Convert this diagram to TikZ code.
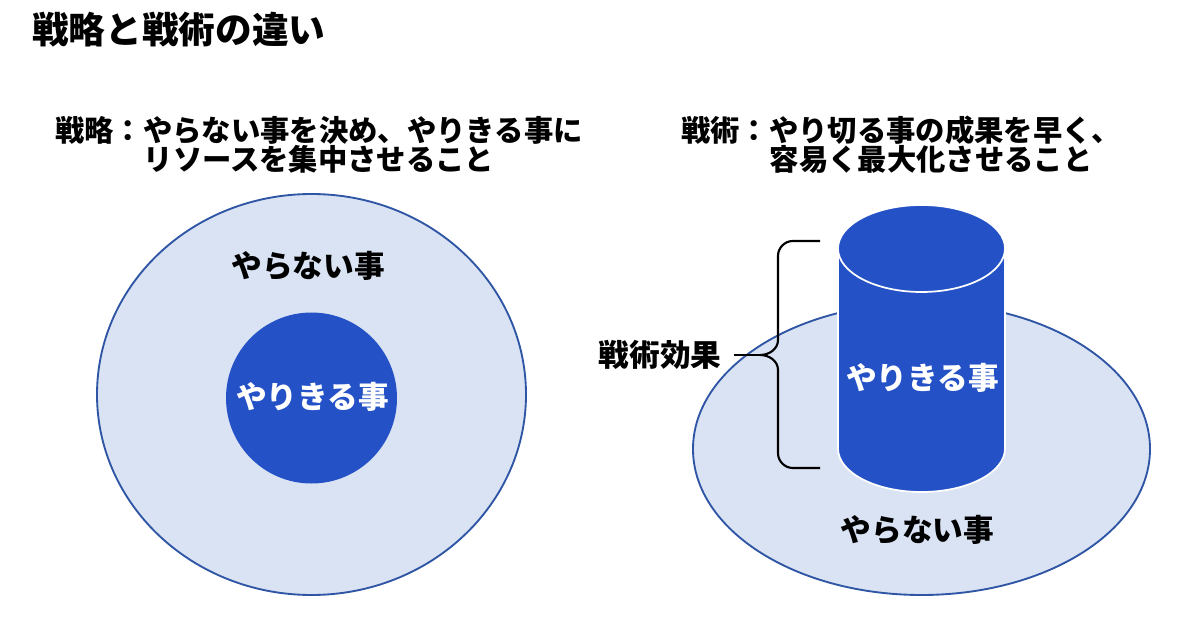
\documentclass[tikz,border=0pt]{standalone}
\usepackage{fontspec}
\setmainfont{Noto Sans CJK JP}
\usetikzlibrary{calc}
\definecolor{lightfill}{HTML}{DAE3F3}
\definecolor{rimblue}{HTML}{2F55A5}
\definecolor{darkfill}{HTML}{2452C6}
\tikzset{
  txt/.style={inner sep=0pt, font=\fontsize{22}{29}\selectfont\bfseries, text=black},
  lbl/.style={inner sep=0pt, font=\fontsize{23}{29}\selectfont\bfseries},
  outer/.style={fill=lightfill, draw=rimblue, line width=1.4pt},
  inner/.style={fill=darkfill},
  cyl/.style={fill=darkfill, draw=white, line width=1.3pt},
  bracepath/.style={draw=black, line width=1.6pt, line join=round}
}
\begin{document}
\begin{tikzpicture}[x=0.75pt,y=-0.75pt]
\useasboundingbox[fill=white] (0,0) rectangle (1200,624);

% title
\node[inner sep=0pt, anchor=west, font=\fontsize{27.5}{33}\selectfont\bfseries] (title) at (32,29.5) {戦略と戦術の違い};

% left headings
\node[txt, anchor=west] (l1) at (55,130) {戦略：やらない事を決め、やりきる事に};
\node[txt, anchor=west] (l2) at (143.5,159.5) {リソースを集中させること};

% right headings
\node[txt, anchor=west] (r1) at (681,130) {戦術：やり切る事の成果を早く、};
\node[txt, anchor=west] (r2) at (769.5,159.5) {容易く最大化させること};

% left diagram
\draw[outer] (311.5,394.5) ellipse [x radius=214.5, y radius=200.5];
\fill[inner] (311.5,398) circle [radius=85.5];
\node[lbl] (lnot) at (308,266) {やらない事};
\node[lbl, text=white] (ldo) at (312.5,397) {やりきる事};

% right diagram
\draw[outer] (921.5,449) ellipse [x radius=228.5, y radius=146];
\path[cyl] (838,248.5) -- (838,448.5) arc [start angle=180, end angle=360, x radius=83.5, y radius=-43.5] -- (1005,248.5) arc [start angle=0, end angle=180, x radius=83.5, y radius=-43.5] -- cycle;
\path[cyl] (921.5,248.5) ellipse [x radius=83.5, y radius=43.5];
\node[lbl, text=white] (rdo) at (922.5,378) {やりきる事};
\node[lbl] (rnot) at (917.5,530) {やらない事};

% brace
\coordinate (btop) at (820,241);
\coordinate (bbot) at (820,468);
\coordinate (btip) at (760,355);
\draw[bracepath] (btop) -- (793,241) to[out=180,in=90] (778,256) -- (778,340) to[out=-90,in=0] (btip) to[out=0,in=90] (778,370) -- (778,453) to[out=-90,in=180] (793,468) -- (bbot);
\node[lbl, inner xsep=9pt] (kouka) at (660,355) {戦術効果};
\draw[bracepath] (kouka.east) -- (btip);
\end{tikzpicture}
\end{document}
